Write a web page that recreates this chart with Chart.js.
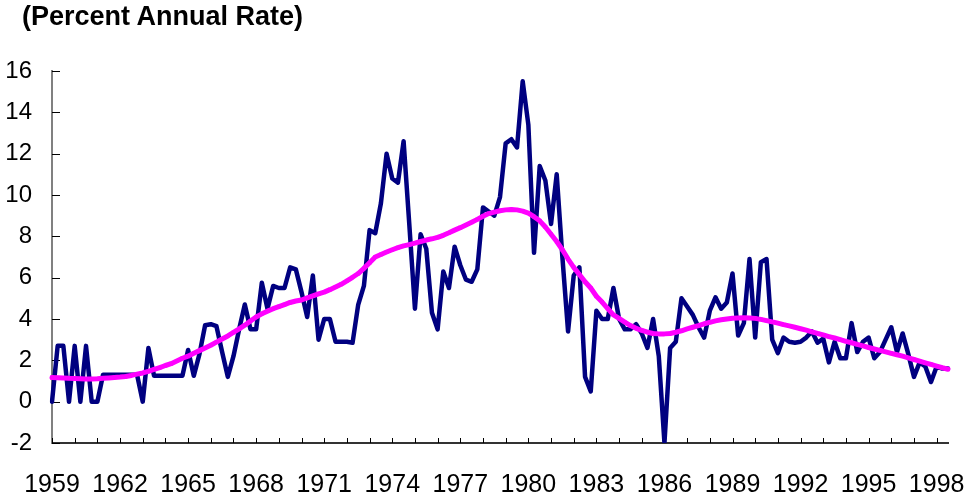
<!DOCTYPE html>
<html>
<head>
<meta charset="utf-8">
<script src="https://cdn.jsdelivr.net/npm/chart.js@4.4.0/dist/chart.umd.min.js"></script>
<style>
  html, body { margin: 0; padding: 0; background: #fff; }
  #wrap  { position: relative; width: 967px; height: 500px; }
  #title { position: absolute; left: 22px; top: 1px; color: #000;
           font: bold 27px 'Liberation Sans', Arial, sans-serif; white-space: nowrap; }
  canvas { display: block; }
</style>
</head>
<body>
<div id="wrap">
  <div id="title">(Percent Annual Rate)</div>
  <canvas id="chart" width="967" height="500"></canvas>
</div>
<script>
'use strict';

const FIRST_YEAR = 1959;
const LAST_YEAR  = 1998;   // data ends 1998 Q3

// x-axis labels, one every 3 years
const yearLabels = ['1959', '1962', '1965', '1968', '1971', '1974', '1977',
                    '1980', '1983', '1986', '1989', '1992', '1995', '1998'];

const yTicks = [-2, 0, 2, 4, 6, 8, 10, 12, 14, 16];

// quarterly rate (navy line), 1959 Q1 .. 1998 Q3
const quarterlyRate = [
  0, 2.7, 2.7, 0, 2.7, 0, 2.7, 0, 0, 1.3,
  1.3, 1.3, 1.3, 1.3, 1.3, 1.3, 0, 2.6, 1.25, 1.25,
  1.25, 1.25, 1.25, 1.25, 2.5, 1.25, 2.3, 3.7, 3.75, 3.65,
  2.4, 1.2, 2.2, 3.5, 4.7, 3.5, 3.5, 5.75, 4.5, 5.6,
  5.5, 5.5, 6.5, 6.4, 5.3, 4.1, 6.1, 3.0, 4.0, 4.0,
  2.9, 2.9, 2.9, 2.85, 4.7, 5.6, 8.3, 8.15, 9.6, 12.0,
  10.8, 10.6, 12.6, 8.6, 4.5, 8.1, 7.4, 4.3, 3.5, 6.3,
  5.5, 7.5, 6.6, 5.9, 5.8, 6.4, 9.4, 9.2, 9.0, 9.9,
  12.5, 12.7, 12.3, 15.5, 13.4, 7.2, 11.4, 10.7, 8.6, 11.0,
  7.0, 3.4, 6.1, 6.5, 1.2, 0.5, 4.4, 4.0, 4.0, 5.5,
  4.0, 3.5, 3.5, 3.75, 3.3, 2.6, 4.0, 2.2, -2.0, 2.6,
  2.9, 5.0, 4.6, 4.2, 3.6, 3.1, 4.4, 5.05, 4.5, 4.8,
  6.2, 3.2, 3.8, 6.9, 3.1, 6.75, 6.9, 3.0, 2.35, 3.1,
  2.9, 2.85, 2.9, 3.1, 3.4, 2.85, 3.05, 1.9, 2.9, 2.1,
  2.1, 3.8, 2.4, 2.9, 3.1, 2.1, 2.4, 3.0, 3.6, 2.4,
  3.3, 2.3, 1.2, 1.9, 1.7, 0.95, 1.7, 1.6, 1.6,
];

// smoothed trend (magenta line)
const trendRate = [
  1.17, 1.16, 1.15, 1.13, 1.12, 1.11, 1.10, 1.10, 1.11, 1.13,
  1.15, 1.17, 1.19, 1.22, 1.27, 1.33, 1.39, 1.47, 1.56, 1.65,
  1.75, 1.84, 1.97, 2.10, 2.20, 2.34, 2.47, 2.60, 2.73, 2.88,
  3.03, 3.18, 3.35, 3.52, 3.70, 3.90, 4.10, 4.25, 4.38, 4.50,
  4.60, 4.70, 4.80, 4.87, 4.92, 5.02, 5.12, 5.22, 5.30, 5.42,
  5.55, 5.68, 5.85, 6.02, 6.20, 6.45, 6.72, 7.00, 7.12, 7.24,
  7.35, 7.45, 7.54, 7.60, 7.67, 7.75, 7.82, 7.88, 7.95, 8.05,
  8.17, 8.30, 8.42, 8.55, 8.68, 8.82, 8.97, 9.10, 9.17, 9.24,
  9.28, 9.30, 9.28, 9.22, 9.12, 8.95, 8.75, 8.45, 8.10, 7.75,
  7.35, 6.90, 6.50, 6.15, 5.80, 5.50, 5.10, 4.82, 4.50, 4.20,
  4.03, 3.85, 3.68, 3.55, 3.45, 3.36, 3.30, 3.28, 3.28, 3.30,
  3.36, 3.43, 3.52, 3.60, 3.68, 3.77, 3.84, 3.91, 3.96, 4.00,
  4.04, 4.05, 4.06, 4.05, 4.03, 3.98, 3.92, 3.86, 3.80, 3.73,
  3.67, 3.60, 3.53, 3.46, 3.38, 3.30, 3.23, 3.15, 3.08, 3.00,
  2.92, 2.85, 2.77, 2.70, 2.62, 2.55, 2.48, 2.41, 2.34, 2.27,
  2.20, 2.12, 2.04, 1.96, 1.88, 1.80, 1.72, 1.64, 1.57,
];

// quarter categories
const quarters = [];
for (let y = FIRST_YEAR; y <= LAST_YEAR; y++) {
  for (let q = 1; q <= 4; q++) {
    if (quarters.length < quarterlyRate.length) quarters.push(`${y} Q${q}`);
  }
}

const FONT = "'Liberation Sans', Arial, sans-serif";

// Excel-style tick marks pointing into the plot
const innerTicks = {
  id: 'innerTicks',
  beforeDatasetsDraw(chart) {
    const { ctx, chartArea: a, scales: { x, y } } = chart;
    ctx.save();
    ctx.strokeStyle = '#000';
    ctx.lineWidth = 1;
    ctx.beginPath();
    for (let i = 0; i < quarters.length; i += 4) {
      const px = Math.round(x.getPixelForValue(i)) + 0.5;
      ctx.moveTo(px, a.bottom);
      ctx.lineTo(px, a.bottom - 5);
    }
    yTicks.forEach(v => {
      const py = Math.round(y.getPixelForValue(v)) + 0.5;
      ctx.moveTo(a.left, py);
      ctx.lineTo(a.left + 8, py);
    });
    ctx.stroke();
    ctx.restore();
  },
};

new Chart(document.getElementById('chart'), {
  type: 'line',
  data: {
    labels: quarters,
    datasets: [
      {
        label:           'Trend',
        data:            trendRate,
        borderColor:     '#FF00FF',
        backgroundColor: '#FF00FF',
        borderWidth:     5,
        borderJoinStyle: 'round',
        borderCapStyle:  'round',
        pointStyle:      'rect',
        pointRadius:     2.6,
        pointBorderWidth:0,
        tension:         0,
        order:           0,
      },
      {
        label:           'Quarterly',
        data:            quarterlyRate,
        borderColor:     '#000080',
        borderWidth:     4.5,
        borderJoinStyle: 'round',
        borderCapStyle:  'round',
        pointRadius:     0,
        tension:         0,
        order:           1,
      },
    ],
  },
  options: {
    responsive: false,
    animation:  false,
    devicePixelRatio: 1,
    layout: { padding: { top: 71, right: 19, bottom: 0, left: 0 } },
    plugins: {
      legend:  { display: false },
      tooltip: { enabled: false },
      title:   { display: false },
    },
    scales: {
      x: {
        type:   'category',
        offset: false,
        // invisible tick gap pushes labels down without widening side padding
        grid:   { display: true, drawOnChartArea: false, drawTicks: true,
                  tickLength: 27, tickColor: 'rgba(0,0,0,0)' },
        border: { color: '#333', width: 2 },
        ticks: {
          autoSkip:    false,
          maxRotation: 0,
          minRotation: 0,
          padding:     0,
          color:       '#000',
          font:        { family: FONT, size: 25 },
          callback:    (v, i) => (i % 12 === 0 ? yearLabels[i / 12] : ''),
        },
        afterFit: s => { s.height = 57; },
      },
      y: {
        min: -2,
        max: 16,
        grid:   { display: true, drawOnChartArea: false, drawTicks: false },
        border: { color: '#808080', width: 2 },
        ticks: {
          stepSize: 2,
          padding:  20,
          color:    '#000',
          font:     { family: FONT, size: 24 },
        },
        afterFit: s => { s.width = 52; },
      },
    },
  },
  plugins: [innerTicks],
});
</script>
</body>
</html>
